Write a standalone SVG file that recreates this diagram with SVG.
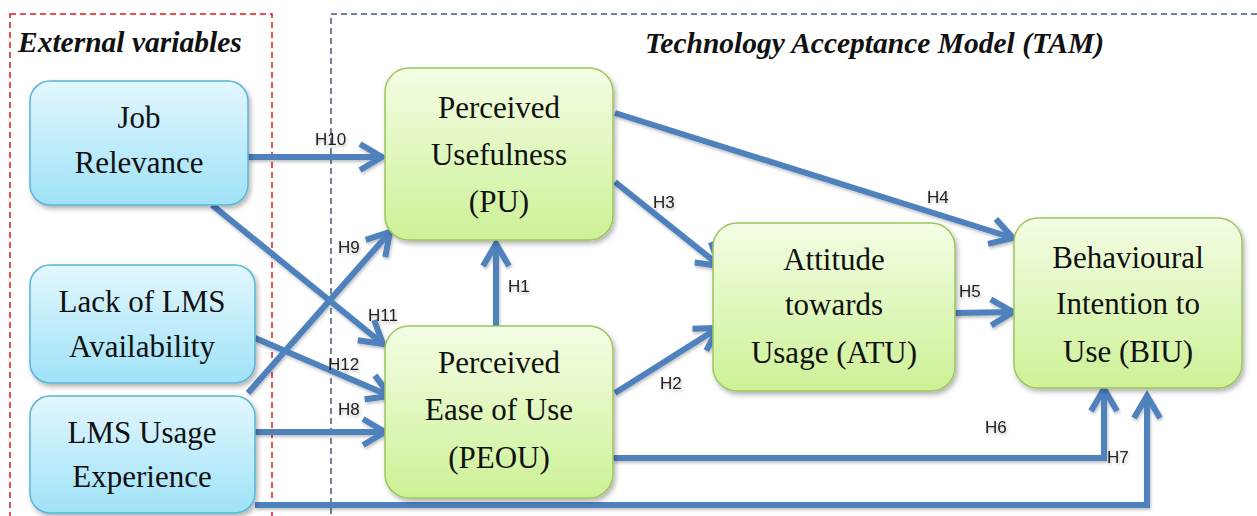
<svg xmlns="http://www.w3.org/2000/svg" width="1257" height="516" viewBox="0 0 1257 516">
<style>
.ext{fill:url(#gBlue);stroke:#5ab4d4;stroke-width:1.5}
.tam{fill:url(#gGreen);stroke:#9cc65e;stroke-width:1.5}
.nt{font-family:'Liberation Serif','Times New Roman',serif;font-size:31px;fill:#111;text-anchor:middle}
.ttl{font-family:'Liberation Serif','Times New Roman',serif;font-size:29.5px;font-weight:bold;font-style:italic;fill:#111}
.lbl{font-family:'Liberation Sans',Arial,sans-serif;font-size:17px;fill:#222}
.cn{fill:none;stroke:#4f81bd;stroke-width:6;marker-end:url(#arr)}
</style>
<defs>
<linearGradient id="gBlue" x1="0" y1="0" x2="0" y2="1">
<stop offset="0" stop-color="#e2f7fe"/>
<stop offset="1" stop-color="#9fe2f8"/>
</linearGradient>
<linearGradient id="gGreen" x1="0" y1="0" x2="0" y2="1">
<stop offset="0" stop-color="#f3fde4"/>
<stop offset="1" stop-color="#cdf196"/>
</linearGradient>
<filter id="sh" x="-10%" y="-10%" width="125%" height="130%">
<feDropShadow dx="2" dy="3" stdDeviation="2.5" flood-color="#000" flood-opacity="0.3"/>
</filter>
<filter id="lsh" x="-10%" y="-10%" width="125%" height="130%">
<feDropShadow dx="1" dy="2" stdDeviation="1.5" flood-color="#000" flood-opacity="0.25"/>
</filter>
<marker id="arr" markerUnits="userSpaceOnUse" markerWidth="40" markerHeight="40" refX="0" refY="0" orient="auto" viewBox="-30 -20 40 40" overflow="visible">
<path d="M-22,-13 L0,0 L-22,13" fill="none" stroke="#4f81bd" stroke-width="6" stroke-linejoin="miter"/>
</marker>
</defs>
<rect width="1257" height="516" fill="#fff"/>
<g id="frames">
<rect x="10" y="14" width="262" height="520" fill="none" stroke="#e8141b" stroke-width="1.5" stroke-dasharray="6 4"/>
<rect x="331" y="14" width="940" height="520" fill="none" stroke="#44587a" stroke-width="1.5" stroke-dasharray="6 4"/>
<text class="ttl" x="18" y="52">External variables</text>
<text class="ttl" x="645" y="53">Technology Acceptance Model (TAM)</text>
</g>
<g id="connectors" filter="url(#lsh)">
<path class="cn" d="M248,157 L382,157"/>
<path class="cn" d="M212,205 L383,344"/>
<path class="cn" d="M255,338 L390,396"/>
<path class="cn" d="M248,393 L390,232"/>
<path class="cn" d="M255,432 L385,432"/>
<path class="cn" d="M496,326 L496,244"/>
<path class="cn" d="M615,393 L718,328"/>
<path class="cn" d="M615,182 L720,266"/>
<path class="cn" d="M615,113 L1013,238"/>
<path class="cn" d="M955,313 L1013,312"/>
<path class="cn" d="M613,458 L1104,458 L1104,389"/>
<path class="cn" d="M255,505 L1147,505 L1147,396"/>
<text class="lbl" x="315" y="145">H10</text>
<text class="lbl" x="338" y="253">H9</text>
<text class="lbl" x="368" y="321">H11</text>
<text class="lbl" x="328" y="370">H12</text>
<text class="lbl" x="338" y="415">H8</text>
<text class="lbl" x="508" y="292">H1</text>
<text class="lbl" x="660" y="389">H2</text>
<text class="lbl" x="653" y="208">H3</text>
<text class="lbl" x="927" y="203">H4</text>
<text class="lbl" x="959" y="297">H5</text>
<text class="lbl" x="985" y="433">H6</text>
<text class="lbl" x="1107" y="463">H7</text>
</g>
<g id="jr">
<rect class="ext" x="30" y="81" width="218" height="124" rx="20" filter="url(#sh)"/>
<text class="nt" x="139" y="128">Job</text>
<text class="nt" x="139" y="173">Relevance</text>
</g>
<g id="lack">
<rect class="ext" x="30" y="265" width="225" height="118" rx="20" filter="url(#sh)"/>
<text class="nt" x="142" y="312">Lack of LMS</text>
<text class="nt" x="142" y="357">Availability</text>
</g>
<g id="usage">
<rect class="ext" x="30" y="396" width="225" height="117" rx="20" filter="url(#sh)"/>
<text class="nt" x="142" y="443">LMS Usage</text>
<text class="nt" x="142" y="487">Experience</text>
</g>
<g id="pu">
<rect class="tam" x="385" y="68" width="228" height="172" rx="24" filter="url(#sh)"/>
<text class="nt" x="499" y="118">Perceived</text>
<text class="nt" x="499" y="165">Usefulness</text>
<text class="nt" x="499" y="212">(PU)</text>
</g>
<g id="peou">
<rect class="tam" x="385" y="326" width="228" height="172" rx="24" filter="url(#sh)"/>
<text class="nt" x="499" y="373">Perceived</text>
<text class="nt" x="499" y="420">Ease of Use</text>
<text class="nt" x="499" y="468">(PEOU)</text>
</g>
<g id="atu">
<rect class="tam" x="713" y="223" width="242" height="168" rx="24" filter="url(#sh)"/>
<text class="nt" x="834" y="270">Attitude</text>
<text class="nt" x="834" y="315">towards</text>
<text class="nt" x="834" y="363">Usage (ATU)</text>
</g>
<g id="biu">
<rect class="tam" x="1014" y="218" width="228" height="170" rx="24" filter="url(#sh)"/>
<text class="nt" x="1128" y="268">Behavioural</text>
<text class="nt" x="1128" y="314">Intention to</text>
<text class="nt" x="1128" y="362">Use (BIU)</text>
</g>
</svg>
